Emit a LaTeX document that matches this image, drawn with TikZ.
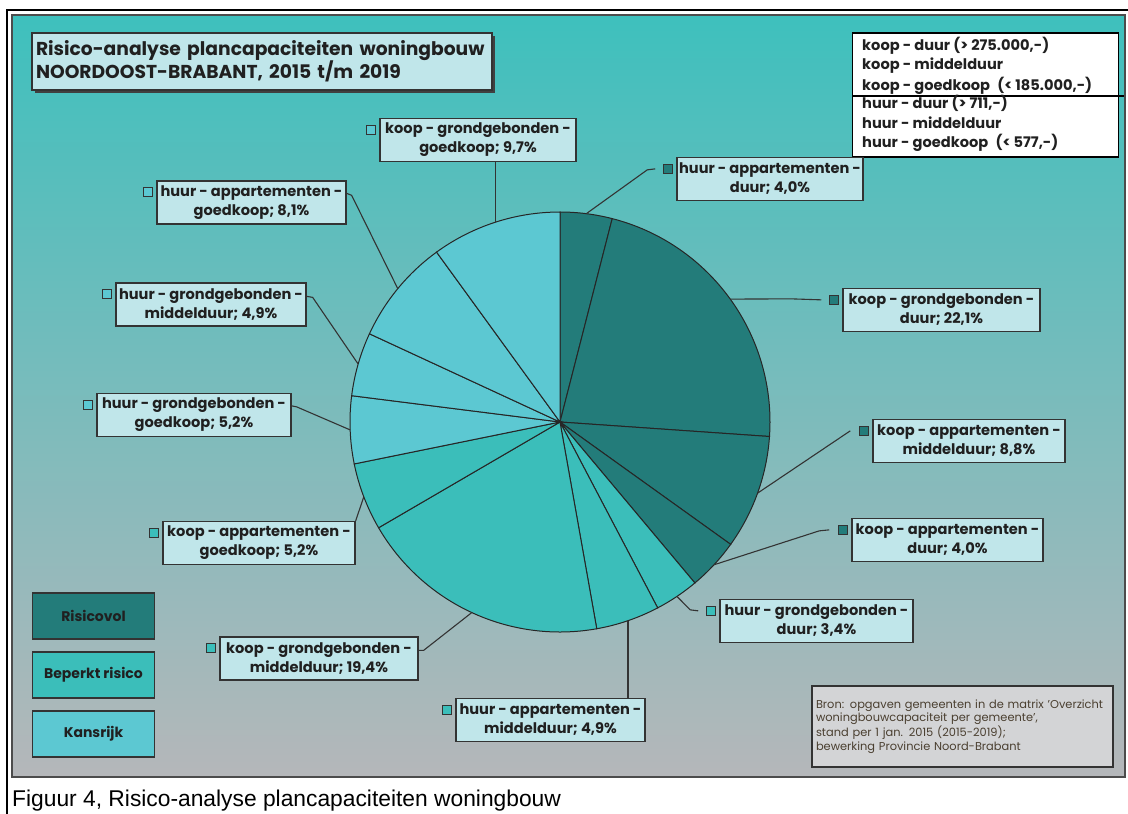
\documentclass[tikz,border=0pt]{standalone}
\usepackage{fontspec}
\setmainfont{Poppins}
\newfontfamily\capfont{Liberation Sans}
\usetikzlibrary{calc,shadows}
\definecolor{dark}{HTML}{237C7A}
\definecolor{midc}{HTML}{3BBEBA}
\definecolor{lightc}{HTML}{5CC8D2}
\definecolor{lab}{HTML}{C0E6EA}
\definecolor{bgtop}{HTML}{3EC0BD}
\definecolor{bgbot}{HTML}{B5B7BA}
\definecolor{ink}{HTML}{202020}
\definecolor{edge}{HTML}{333333}
\definecolor{srcfill}{HTML}{D3D4D6}
\definecolor{srcink}{HTML}{4A3F30}
\tikzset{
  lbl/.style={draw=edge, line width=1.3pt, fill=lab, minimum height=43pt, inner sep=0pt, align=center,
    font=\fontsize{14.6}{19}\selectfont\bfseries, text=ink},
  mk/.style={draw=edge, line width=1.2pt, minimum size=9pt, inner sep=0pt},
  lead/.style={draw=edge, line width=1.1pt},
  slice/.style={draw=black!85, line width=1pt},
  legtxt/.style={anchor=west, inner sep=0pt, font=\fontsize{14.6}{16}\selectfont\bfseries, text=ink},
  keybox/.style={draw=edge, line width=1.3pt, minimum width=122pt, minimum height=46pt, inner sep=0pt,
    font=\fontsize{14}{16}\selectfont\bfseries, text=ink}
}
\begin{document}
\begin{tikzpicture}[x=1pt, y=-1pt]
\useasboundingbox (0,0) rectangle (1128,814);
\fill[white] (0,0) rectangle (1128,814);
% outer frame lines
\draw[line width=2pt] (7,814) -- (7,10) -- (1128,10);
% panel
\draw[draw=black!70, line width=2pt, top color=bgtop, bottom color=bgbot] (12,15) rectangle (1125,777);

% pie
\coordinate (O) at (560,422);
\foreach \a/\b/\c in {90/75.6/dark, 75.6/-3.96/dark, -3.96/-35.64/dark, -35.64/-50.04/dark,
  -50.04/-62.28/midc, -62.28/-79.92/midc, -79.92/-149.76/midc, -149.76/-168.48/midc,
  -168.48/-187.2/lightc, -187.2/-204.84/lightc, -204.84/-234/lightc, -234/-270/lightc}
  \filldraw[slice, fill=\c] (O) -- ($(O)+(\a:210pt)$) arc[start angle=\a, end angle=\b, radius=210pt] -- cycle;
\foreach \n/\m in {1/82.8, 2/35.82, 3/-19.8, 4/-42.84, 5/-56.16, 6/-71.1, 7/-114.84, 8/-159.12,
  9/-177.84, 10/-196.02, 11/-219.42, 12/-252}
  \coordinate (p\n) at ($(O)+(\m:210pt)$);

% title
\node[draw=edge, line width=1.5pt, fill=lab, drop shadow={shadow xshift=2.5pt, shadow yshift=-2.5pt, fill=black!75, opacity=1},
  minimum width=460pt, minimum height=57pt, text width=452pt, align=left, inner sep=0pt,
  font=\fontsize{18.7}{23}\selectfont\bfseries, text=ink] (title) at (262,61.5)
  {Risico-analyse plancapaciteiten woningbouw\\NOORDOOST-BRABANT, 2015 t/m 2019};

% price legend
\node[draw=black, line width=1.2pt, fill=white, minimum width=266pt, minimum height=124pt, inner sep=0pt] (leg) at (985.5,95) {};
\draw[line width=1.2pt] ([shift={(0,1)}]leg.west) -- ([shift={(5,1)}]leg.east);
\node[legtxt] (k1) at (862,46) {koop - duur (> 275.000,-)};
\node[legtxt] (k2) at (862,66) {koop - middelduur};
\node[legtxt] (k3) at (862,86) {koop - goedkoop\enspace(< 185.000,-)};
\node[legtxt] (h1) at (862,103) {huur - duur (> 711,-)};
\node[legtxt] (h2) at (862,123) {huur - middelduur};
\node[legtxt] (h3) at (862,143) {huur - goedkoop\enspace(< 577,-)};

% risk key
\node[keybox, fill=dark] (r1) at (93.5,616) {Risicovol};
\node[keybox, fill=midc] (r2) at (93.5,675) {Beperkt risico};
\node[keybox, fill=lightc] (r3) at (93.5,734) {Kansrijk};

% source
\node[draw=black!80, line width=1.5pt, fill=srcfill, minimum width=301pt, minimum height=81pt, text width=293pt,
  align=left, inner sep=0pt, font=\fontsize{11.4}{13.5}\selectfont, text=srcink] (src) at (962.5,726.5)
  {Bron: opgaven gemeenten in de matrix 'Overzicht\\woningbouwcapaciteit per gemeente',\\stand per 1 jan. 2015 (2015-2019);\\bewerking Provincie Noord-Brabant};

% labels
\node[lbl, minimum width=196pt] (A) at (478,140) {koop - grondgebonden -\\goedkoop; 9,7\%};
\node[lbl, minimum width=189pt] (B) at (251.5,202.5) {huur - appartementen -\\goedkoop; 8,1\%};
\node[lbl, minimum width=190pt] (C) at (211,304.5) {huur - grondgebonden -\\middelduur; 4,9\%};
\node[lbl, minimum width=194pt] (D) at (194,415) {huur - grondgebonden -\\goedkoop; 5,2\%};
\node[lbl, minimum width=192pt] (E) at (259,543) {koop - appartementen -\\goedkoop; 5,2\%};
\node[lbl, minimum width=198pt] (F) at (319,658.5) {koop - grondgebonden -\\middelduur; 19,4\%};
\node[lbl, minimum width=189pt] (G) at (550.5,720) {huur - appartementen -\\middelduur; 4,9\%};
\node[lbl, minimum width=193pt] (H) at (816.5,621) {huur - grondgebonden -\\duur; 3,4\%};
\node[lbl, minimum width=191pt] (I) at (947.5,540) {koop - appartementen -\\duur; 4,0\%};
\node[lbl, minimum width=192pt] (J) at (969,441) {koop - appartementen -\\middelduur; 8,8\%};
\node[lbl, minimum width=197pt] (K) at (941.5,310) {koop - grondgebonden -\\duur; 22,1\%};
\node[lbl, minimum width=186pt] (L) at (770,179) {huur - appartementen -\\duur; 4,0\%};

% markers
\foreach \n/\c in {A/lightc, B/lightc, C/lightc, D/lightc, E/midc, F/midc, G/midc, H/midc, I/dark, J/dark, K/dark, L/dark}
  \node[mk, fill=\c] (\n m) at ($(\n.north west)+(-8,12)$) {};

% leaders
\draw[lead] (p12) -- (p12 |- A.south);
\draw[lead] ([shift={(0,13)}]B.north east) -- ++(5,2) -- (p11);
\draw[lead] ([shift={(0,14)}]C.north east) -- ++(6,1) -- (p10);
\draw[lead] ([shift={(0,13)}]D.north east) -- ++(5,1) -- (p9);
\draw[lead] (E.north east) -- (p8);
\draw[lead] ([shift={(0,14)}]F.north east) -- ++(5,0) -- (p7);
\draw[lead] (p6) -- (p6 |- G.north);
\draw[lead] ([shift={(-8,0)}]Hm.west) -- ++(-8,-1) -- (p5);
\draw[lead] ([shift={(-9,0)}]Im.west) -- ++(-10,1) -- (p4);
\draw[lead] ([shift={(-9,0)}]Jm.west) -- (p3);
\draw[lead] ([shift={(-8,0)}]Km.west) -- ++(-30,-1) -- (p2);
\draw[lead] ([shift={(-8,0)}]Lm.west) -- ++(-8,1) -- (p1);

% caption
\node[anchor=base west, inner sep=0pt, font=\capfont\fontsize{22.8}{26}\selectfont, text=black] (cap) at (12,806)
  {Figuur 4, Risico-analyse plancapaciteiten woningbouw};
\end{tikzpicture}
\end{document}
